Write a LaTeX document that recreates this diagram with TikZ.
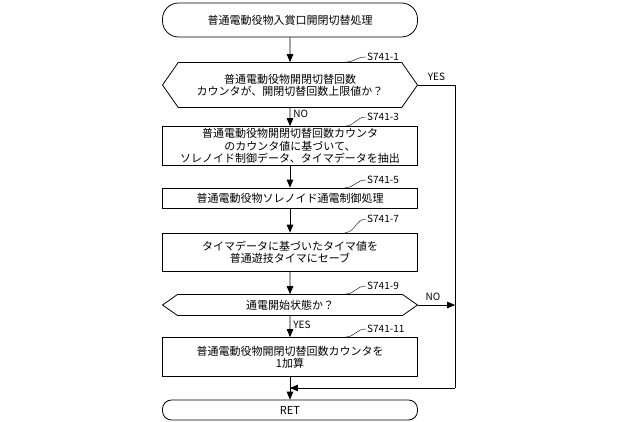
\documentclass[tikz,border=0pt]{standalone}
\usepackage{fontspec}
\setmainfont{Noto Sans CJK JP}
\usetikzlibrary{positioning,arrows,shapes.geometric,shapes.symbols}

\tikzset{
  proc/.style={draw, thick, minimum width=255pt, align=center, inner sep=1pt, font=\fontsize{11}{12.3}\selectfont},
  term/.style={proc, rounded corners=10pt},
  dec/.style={draw, thick, signal, signal to=east and west, signal pointer angle=110, minimum width=255pt, align=center, inner sep=1pt, font=\fontsize{11}{12.3}\selectfont},
  steplbl/.style={font=\fontsize{10}{10}\selectfont, anchor=west, inner sep=1pt},
  flow/.style={thick, -triangle 45},
  note/.style={font=\fontsize{10}{10}\selectfont, inner sep=1pt}
}

\begin{document}
\begin{tikzpicture}[x=1pt,y=-1pt]
        \useasboundingbox (0,0) rectangle (640,422);

        \node[term, minimum height=34pt, rounded corners=16pt] (start) at (290,20) {普通電動役物入賞口開閉切替処理};
        \node[dec, minimum height=45pt] (d1) at (290,85) {普通電動役物開閉切替回数\\カウンタが、開閉切替回数上限値か？};
        \node[proc, minimum height=39pt] (p3) at (290,146) {普通電動役物開閉切替回数カウンタ\\のカウンタ値に基づいて、\\ソレノイド制御データ、タイマデータを抽出};
        \node[proc, minimum height=20pt] (p5) at (290,198) {普通電動役物ソレノイド通電制御処理};
        \node[proc, minimum height=38pt] (p7) at (290,252) {タイマデータに基づいたタイマ値を\\普通遊技タイマにセーブ};
        \node[dec, minimum height=21pt, signal pointer angle=70] (d9) at (290,305) {通電開始状態か？};
        \node[proc, minimum height=39pt] (p11) at (290,357) {普通電動役物開閉切替回数カウンタを\\1加算};
        \node[term, minimum height=20pt, rounded corners=9pt] (ret) at (290,410) {RET};

        % step labels
        \node[steplbl] (s1) at (366,57) {S741-1};
        \node[steplbl] (s3) at (366,117) {S741-3};
        \node[steplbl] (s5) at (366,180) {S741-5};
        \node[steplbl] (s7) at (366,219) {S741-7};
        \node[steplbl] (s9) at (366,286) {S741-9};
        \node[steplbl] (s11) at (366,329) {S741-11};
        \foreach \s/\b in {s1/d1,s3/p3,s5/p5,s7/p7,s9/d9,s11/p11}
          \draw (\s.west) .. controls +(-10,0) and +(10,0) .. (\b.north -| 345,0);

        % flow
        \draw[flow] (start) -- (d1);
        \draw[flow] (d1) -- (p3) node[note, pos=0.3, right=2pt] {NO};
        \draw[flow] (p3) -- (p5);
        \draw[flow] (p5) -- (p7);
        \draw[flow] (p7) -- (d9);
        \draw[flow] (d9) -- (p11) node[note, pos=0.4, right=2pt] {YES};
        \draw[flow] (p11) -- (ret);

        \coordinate (c1) at (455,85);
        \coordinate (c2) at (455,388);
        \coordinate (c3) at (290,388);
        \draw[thick] (d1.east) -- (c1) node[note, pos=0.5, above=3pt] {YES} -- (c2);
        \draw[flow] (c2) -- (c3);
        \draw[flow] (d9.east) -- (d9.east -| c1) node[note, pos=0.4, above=3pt] {NO};
\end{tikzpicture}
\end{document}
